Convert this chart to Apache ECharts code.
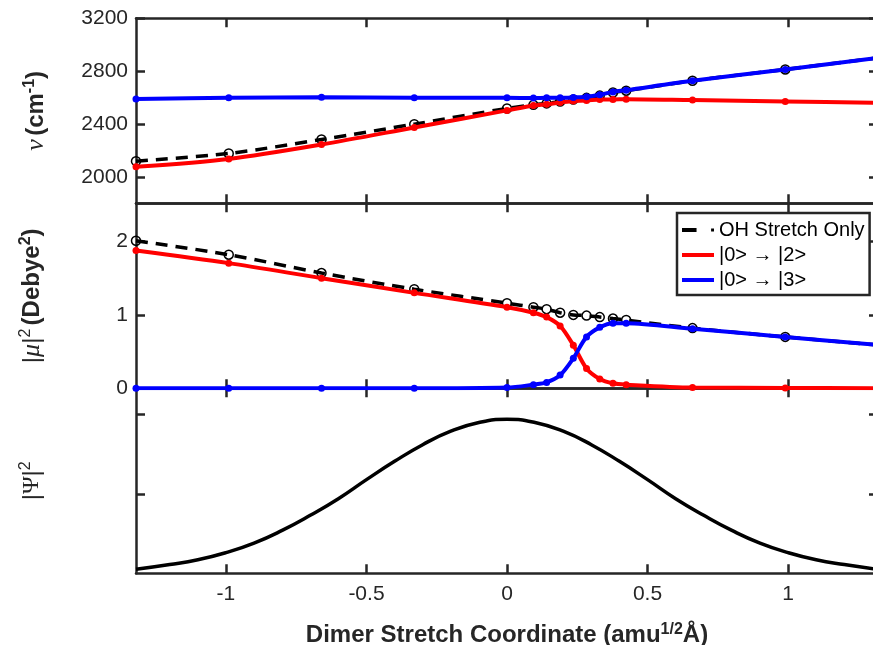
<!DOCTYPE html>
<html>
<head>
<meta charset="utf-8">
<script src="https://cdn.jsdelivr.net/npm/echarts@6/dist/echarts.min.js"></script>
<style>
  html, body { margin: 0; padding: 0; background: #fff; }
  #chart { width: 873px; height: 645px; }
</style>
</head>
<body>
<div id="chart"></div>
<script>
// dimer stretch coordinate of the computed points
const coord = [-1.32, -0.99, -0.66, -0.33, 0, 0.094, 0.141, 0.189, 0.236, 0.283, 0.33, 0.377, 0.424, 0.66, 0.99, 1.32]

// frequencies (cm-1)
const nuOH = [2119, 2177, 2283, 2399, 2518, 2545, 2556, 2570, 2585, 2598, 2615, 2638, 2652, 2727, 2813, 2900]
const nu02 = [2076, 2136, 2245, 2374, 2503, 2540, 2550, 2563, 2575, 2578, 2586, 2586, 2588, 2581, 2571, 2561]
const nu03 = [2590, 2598, 2603, 2598, 2598, 2596, 2598, 2598, 2601, 2606, 2621, 2643, 2656, 2727, 2813, 2900]

// |mu|^2 (Debye^2)
const muOH = [2.01, 1.82, 1.57, 1.35, 1.16, 1.105, 1.078, 1.03, 1.0, 0.99, 0.97, 0.95, 0.93, 0.82, 0.70, 0.59]
const mu02 = [1.877, 1.705, 1.50, 1.30, 1.105, 1.03, 0.97, 0.85, 0.587, 0.27, 0.127, 0.068, 0.05, 0.01, 0.005, 0]
const mu03 = [0, 0, 0, 0, 0.01, 0.05, 0.08, 0.18, 0.41, 0.70, 0.83, 0.887, 0.887, 0.81, 0.70, 0.59]

// ground state density |Psi|^2 (arb. units)
const psiX = [-1.32, -1.2, -1.1, -1.0, -0.9, -0.8, -0.7, -0.6, -0.5, -0.4, -0.3, -0.2, -0.1, 0,
  0.1, 0.2, 0.3, 0.4, 0.5, 0.6, 0.7, 0.8, 0.9, 1.0, 1.1, 1.2, 1.32]
const psiY = [0.05, 0.11, 0.17, 0.26, 0.38, 0.54, 0.73, 0.94, 1.18, 1.41, 1.62, 1.79, 1.90, 1.94,
  1.90, 1.79, 1.62, 1.41, 1.18, 0.94, 0.73, 0.54, 0.38, 0.26, 0.17, 0.11, 0.05]

const xTicks = [-1, -0.5, 0, 0.5, 1]
const nuTicks = [2000, 2400, 2800, 3200]
const muTicks = [0, 1, 2]
const psiTicks = [1, 2]

const names = ['OH Stretch Only', '|0> \u2192 |2>', '|0> \u2192 |3>']

const pairs = (xs, ys) => xs.map((x, i) => [x, ys[i]])

const ink = '#262626'
const font = 'Liberation Sans, Arial, sans-serif'

const chart = echarts.init(document.getElementById('chart'))

const lineAx = { show: true, onZero: false, lineStyle: { color: ink, width: 2.5 } }

function xAx(grid, pos, labels) {
  return {
    type: 'value', gridIndex: grid, position: pos, min: -1.32, max: 1.32,
    axisLine: lineAx,
    splitLine: { show: false },
    axisTick: { inside: true, length: 9, lineStyle: { color: ink, width: 2.5 }, customValues: xTicks },
    axisLabel: { show: labels, customValues: xTicks, color: ink, fontSize: 21, fontFamily: font, margin: 10,
      formatter: v => String(v) }
  }
}

function yAx(grid, pos, min, max, ticks, labels) {
  return {
    type: 'value', gridIndex: grid, position: pos, min, max,
    axisLine: lineAx,
    splitLine: { show: false },
    axisTick: { inside: true, length: 9, lineStyle: { color: ink, width: 2.5 }, customValues: ticks },
    axisLabel: { show: labels, customValues: ticks, color: ink, fontSize: 21, fontFamily: font, margin: 8,
      formatter: v => String(v) }
  }
}

const xAxes = [
  xAx(0, 'bottom', false), xAx(1, 'bottom', false), xAx(2, 'bottom', true),
  xAx(0, 'top', false), xAx(1, 'top', false), xAx(2, 'top', false)
]
xAxes[2].name = '{b|Dimer Stretch Coordinate (amu}{sb|1/2}{b|\u00c5)}'
xAxes[2].nameLocation = 'middle'
xAxes[2].nameGap = 48
xAxes[2].nameTextStyle = {
  rich: {
    b: { fontSize: 24, fontWeight: 'bold', fontFamily: font, color: ink, lineHeight: 28 },
    sb: { fontSize: 16, fontWeight: 'bold', fontFamily: font, color: ink, lineHeight: 16, verticalAlign: 'top' }
  }
}

const yAxes = [
  yAx(0, 'left', 1800, 3200, nuTicks, true),
  yAx(1, 'left', 0, 2.52, muTicks, true),
  yAx(2, 'left', 0, 2.33, psiTicks, false),
  yAx(0, 'right', 1800, 3200, nuTicks, false),
  yAx(1, 'right', 0, 2.52, muTicks, false),
  yAx(2, 'right', 0, 2.33, psiTicks, false)
]

const richY = {
  n: { fontSize: 24, fontFamily: font, color: ink, lineHeight: 28 },
  b: { fontSize: 24, fontWeight: 'bold', fontFamily: font, color: ink, lineHeight: 28 },
  g: { fontSize: 26, fontStyle: 'italic', fontFamily: 'Liberation Serif, serif', color: ink, lineHeight: 28 },
  gu: { fontSize: 24, fontFamily: 'Liberation Serif, serif', color: ink, lineHeight: 28 },
  s: { fontSize: 16, fontFamily: font, color: ink, lineHeight: 16, verticalAlign: 'top' },
  sb: { fontSize: 16, fontWeight: 'bold', fontFamily: font, color: ink, lineHeight: 16, verticalAlign: 'top' }
}
yAxes[0].name = '{g|\u03bd} {b|(cm}{sb|-1}{b|)}'
yAxes[1].name = '{n||}{g|\u03bc}{n||}{s|2} {b|(Debye}{sb|2}{b|)}'
yAxes[2].name = '{n||}{gu|\u03a8}{n||}{s|2}'
const yGaps = [86, 90, 90]
for (let i = 0; i < 3; i++) {
  yAxes[i].nameLocation = 'middle'
  yAxes[i].nameGap = yGaps[i]
  yAxes[i].nameRotate = 90
  yAxes[i].nameTextStyle = { rich: richY }
}

const lineCommon = { type: 'line', smooth: 0.3, animation: false, clip: true }

const gridCommon = { left: 136, right: -5, height: 185, outerBoundsMode: 'none', containLabel: false }

const option = {
  animation: false,
  backgroundColor: '#fff',
  grid: [
    { ...gridCommon, top: 18.3 },
    { ...gridCommon, top: 203.3 },
    { ...gridCommon, top: 388.3 }
  ],
  xAxis: xAxes,
  yAxis: yAxes,
  legend: {
    left: 677, top: 213, orient: 'vertical',
    backgroundColor: '#fff', borderColor: ink, borderWidth: 2.5, borderRadius: 0,
    padding: [7, 5, 5, 5], itemGap: 5, itemWidth: 32, itemHeight: 4,
    selectedMode: false,
    textStyle: { fontSize: 20, fontFamily: font, color: '#000' },
    data: [
      { name: names[0], icon: 'path://M0,0H15V4H0Z M30,0.5H33V3.5H30Z', itemStyle: { color: '#000', borderWidth: 0 }, lineStyle: { width: 0 } },
      { name: names[1], icon: 'rect', itemStyle: { color: '#ff0000', borderWidth: 0 }, lineStyle: { width: 0 } },
      { name: names[2], icon: 'rect', itemStyle: { color: '#0000ff', borderWidth: 0 }, lineStyle: { width: 0 } }
    ]
  },
  series: [
    // top panel: frequencies
    { ...lineCommon, name: names[0], xAxisIndex: 0, yAxisIndex: 0, data: pairs(coord, nuOH),
      symbol: 'circle', symbolSize: 9,
      itemStyle: { color: 'rgba(255,255,255,0)', borderColor: '#000', borderWidth: 1.5 },
      lineStyle: { color: '#000', width: 3.5, type: [12, 8] }, z: 2 },
    { ...lineCommon, name: names[1], xAxisIndex: 0, yAxisIndex: 0, data: pairs(coord, nu02),
      symbol: 'circle', symbolSize: 7, itemStyle: { color: '#ff0000' },
      lineStyle: { color: '#ff0000', width: 4 }, z: 3 },
    { ...lineCommon, name: names[2], xAxisIndex: 0, yAxisIndex: 0, data: pairs(coord, nu03),
      symbol: 'circle', symbolSize: 7, itemStyle: { color: '#0000ff' },
      lineStyle: { color: '#0000ff', width: 4 }, z: 4 },
    // middle panel: intensities
    { ...lineCommon, name: names[0], xAxisIndex: 1, yAxisIndex: 1, data: pairs(coord, muOH),
      symbol: 'circle', symbolSize: 9,
      itemStyle: { color: 'rgba(255,255,255,0)', borderColor: '#000', borderWidth: 1.5 },
      lineStyle: { color: '#000', width: 3.5, type: [12, 8] }, z: 2 },
    { ...lineCommon, name: names[1], xAxisIndex: 1, yAxisIndex: 1, data: pairs(coord, mu02),
      symbol: 'circle', symbolSize: 7, itemStyle: { color: '#ff0000' },
      lineStyle: { color: '#ff0000', width: 4 }, z: 3 },
    { ...lineCommon, name: names[2], xAxisIndex: 1, yAxisIndex: 1, data: pairs(coord, mu03),
      symbol: 'circle', symbolSize: 7, itemStyle: { color: '#0000ff' },
      lineStyle: { color: '#0000ff', width: 4 }, z: 4 },
    // bottom panel: wavefunction
    { ...lineCommon, name: 'psi', xAxisIndex: 2, yAxisIndex: 2, data: pairs(psiX, psiY),
      showSymbol: false, symbol: 'none', smooth: 0.5,
      lineStyle: { color: '#000', width: 3.5 }, z: 2 }
  ]
}

chart.setOption(option)
</script>
</body>
</html>
